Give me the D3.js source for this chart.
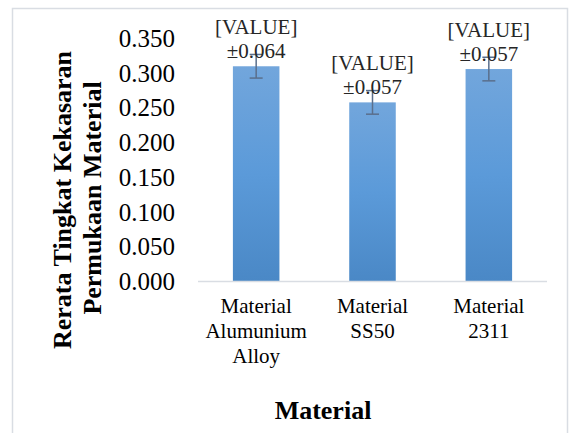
<!DOCTYPE html>
<html>
<head>
<meta charset="utf-8">
<script src="https://cdn.jsdelivr.net/npm/d3@7"></script>
<style>
  body { margin: 0; background: white; }
  svg { display: block; }
</style>
</head>
<body>
<div id="chart"></div>
<script>
// Chart data
const categories = [["Material", "Alumunium", "Alloy"], ["Material", "SS50"], ["Material", "2311"]];
const values = [0.310, 0.258, 0.306];
const errors = [0.017, 0.017, 0.017];
const labelLines = [["[VALUE]", "±0.064"], ["[VALUE]", "±0.057"], ["[VALUE]", "±0.057"]];
const yTicks = [0, 0.05, 0.1, 0.15, 0.2, 0.25, 0.3, 0.35];

const FONT = "Liberation Serif";
const width = 576;
const height = 433;
const margin = { left: 198, right: 29, top: 38.5, bottom: 151.5 };

const svg = d3.select("#chart")
  .append("svg")
  .attr("width", width)
  .attr("height", height)
  .attr("font-family", FONT);

// Outer chart border
svg.append("rect")
  .attr("x", 12.5)
  .attr("y", 8.5)
  .attr("width", 555)
  .attr("height", 440)
  .attr("fill", "white")
  .attr("stroke", "#d9dde3")
  .attr("stroke-width", 1.5);

// Gradient for the bars
const grad = svg.append("defs").append("linearGradient")
  .attr("id", "barGrad")
  .attr("x1", 0).attr("y1", 0).attr("x2", 0).attr("y2", 1);
grad.append("stop").attr("offset", "0%").attr("stop-color", "#72a6dc");
grad.append("stop").attr("offset", "50%").attr("stop-color", "#5b9ad9");
grad.append("stop").attr("offset", "100%").attr("stop-color", "#4a88c6");

const x = d3.scaleBand()
  .domain(d3.range(categories.length))
  .range([margin.left, width - margin.right])
  .paddingInner(0.6)
  .paddingOuter(0.3);

const y = d3.scaleLinear()
  .domain([0, 0.35])
  .range([height - margin.bottom, margin.top]);

// Y axis tick labels (no axis line)
const yAxis = svg.append("g")
  .attr("transform", `translate(175,0)`)
  .call(d3.axisLeft(y).tickValues(yTicks).tickFormat(d3.format(".3f")).tickSize(0).tickPadding(0));
yAxis.attr("font-family", FONT).attr("font-size", 25);
yAxis.select(".domain").remove();
yAxis.selectAll("text")
  .attr("font-family", FONT)
  .attr("font-size", 25)
  .attr("fill", "#000");

// Bars
svg.selectAll(".bar")
  .data(values)
  .enter()
  .append("rect")
  .attr("class", "bar")
  .attr("x", (d, i) => x(i))
  .attr("y", d => y(d))
  .attr("width", x.bandwidth())
  .attr("height", d => y(0) - y(d))
  .attr("fill", "url(#barGrad)");

// Baseline
svg.append("line")
  .attr("x1", margin.left)
  .attr("x2", width - margin.right)
  .attr("y1", y(0))
  .attr("y2", y(0))
  .attr("stroke", "#d9dde3")
  .attr("stroke-width", 1.5);

// Error bars
const errG = svg.selectAll(".err")
  .data(values)
  .enter()
  .append("g")
  .attr("class", "err")
  .attr("stroke", "#5a6f8c")
  .attr("stroke-width", 1.5);
errG.append("line")
  .attr("x1", (d, i) => x(i) + x.bandwidth() / 2)
  .attr("x2", (d, i) => x(i) + x.bandwidth() / 2)
  .attr("y1", (d, i) => y(d + errors[i]))
  .attr("y2", (d, i) => y(d - errors[i]));
errG.append("line")
  .attr("x1", (d, i) => x(i) + x.bandwidth() / 2 - 6.5)
  .attr("x2", (d, i) => x(i) + x.bandwidth() / 2 + 6.5)
  .attr("y1", (d, i) => y(d + errors[i]))
  .attr("y2", (d, i) => y(d + errors[i]));
errG.append("line")
  .attr("x1", (d, i) => x(i) + x.bandwidth() / 2 - 6.5)
  .attr("x2", (d, i) => x(i) + x.bandwidth() / 2 + 6.5)
  .attr("y1", (d, i) => y(d - errors[i]))
  .attr("y2", (d, i) => y(d - errors[i]));

// Data labels above bars
const labelG = svg.selectAll(".lbl")
  .data(values)
  .enter()
  .append("text")
  .attr("class", "lbl")
  .attr("text-anchor", "middle")
  .attr("font-family", FONT)
  .attr("font-size", 21)
  .attr("fill", "#262626");
labelG.each(function(d, i) {
  const cx = x(i) + x.bandwidth() / 2;
  const top = y(d) - 32;
  labelLines[i].forEach((t, k) => {
    d3.select(this).append("tspan")
      .attr("x", cx)
      .attr("y", top + k * 24)
      .text(t);
  });
});

// Category labels
const catG = svg.selectAll(".cat")
  .data(categories)
  .enter()
  .append("text")
  .attr("class", "cat")
  .attr("text-anchor", "middle")
  .attr("font-family", FONT)
  .attr("font-size", 21)
  .attr("fill", "#000");
catG.each(function(lines, i) {
  const cx = x(i) + x.bandwidth() / 2;
  lines.forEach((t, k) => {
    d3.select(this).append("tspan")
      .attr("x", cx)
      .attr("y", 313 + k * 25)
      .text(t);
  });
});

// X axis title
svg.append("text")
  .attr("x", 323)
  .attr("y", 419)
  .attr("text-anchor", "middle")
  .attr("font-family", FONT)
  .attr("font-size", 26)
  .attr("font-weight", "bold")
  .text("Material");

// Y axis title (two lines)
const yTitle = svg.append("text")
  .attr("transform", "rotate(-90)")
  .attr("text-anchor", "middle")
  .attr("font-family", FONT)
  .attr("font-size", 26)
  .attr("font-weight", "bold");
yTitle.append("tspan").attr("x", -200).attr("y", 71).text("Rerata Tingkat Kekasaran");
yTitle.append("tspan").attr("x", -198).attr("y", 101).text("Permukaan Material");
</script>
</body>
</html>
